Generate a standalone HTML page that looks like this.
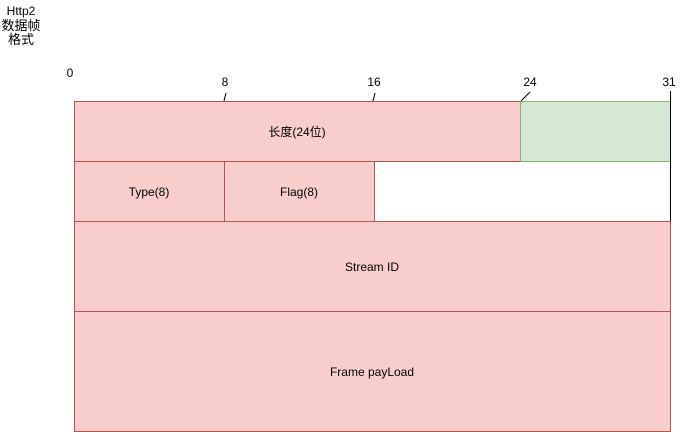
<!DOCTYPE html>
<html><head><meta charset="utf-8"><style>html,body{margin:0;padding:0;background:#fff}svg{display:block}</style></head>
<body>
<svg width="691" height="432" xmlns="http://www.w3.org/2000/svg" font-family="'Liberation Sans','Noto Sans CJK SC',sans-serif" font-size="12" fill="#000">
<g stroke="#b85450" fill="#f8cecc">
<rect x="74.5" y="101.5" width="446" height="60"/>
<rect x="74.5" y="161.5" width="150" height="60"/>
<rect x="224.5" y="161.5" width="150" height="60"/>
<rect x="74.5" y="221.5" width="596" height="90"/>
<rect x="74.5" y="311.5" width="596" height="120"/>
</g>
<rect x="520.5" y="101.5" width="150" height="60" fill="#d5e8d4" stroke="#82b366"/>
<line x1="670.5" y1="91" x2="670.5" y2="221" stroke="#000"/>
<g stroke="#000">
<line x1="224" y1="101" x2="226" y2="93"/>
<line x1="373" y1="101" x2="375" y2="93"/>
<line x1="521" y1="101" x2="530" y2="92"/>
</g>
<g text-anchor="middle">
<text x="21" y="15">Http2</text>
<text x="21" y="30" font-size="13">数据帧</text>
<text x="21" y="44" font-size="13">格式</text>
<text x="70" y="77">0</text>
<text x="225" y="86">8</text>
<text x="374" y="86">16</text>
<text x="530" y="86">24</text>
<text x="669" y="86">31</text>
<text x="297" y="136">长度(24位)</text>
<text x="149" y="196">Type(8)</text>
<text x="299" y="196">Flag(8)</text>
<text x="372" y="271">Stream ID</text>
<text x="372" y="376">Frame payLoad</text>
</g>
</svg>
</body></html>
